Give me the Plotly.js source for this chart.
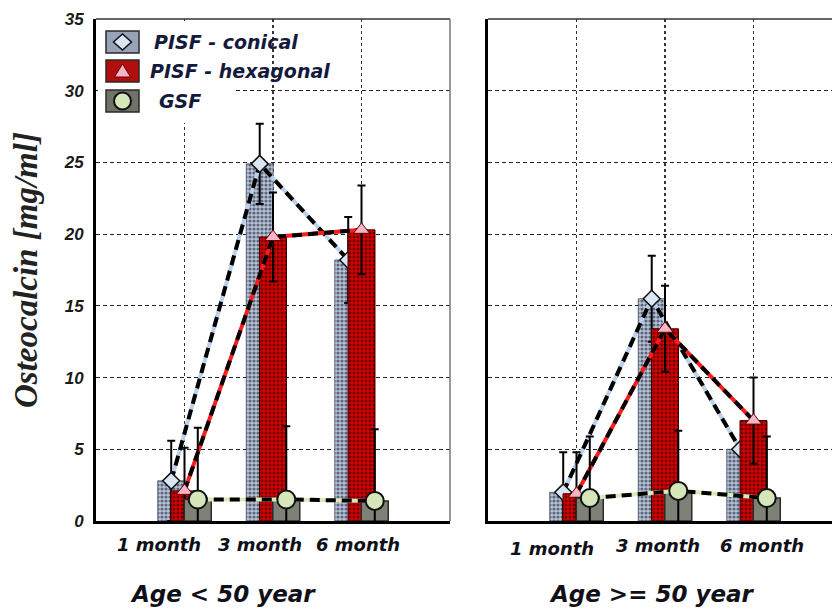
<!DOCTYPE html>
<html>
<head>
<meta charset="utf-8">
<script src="https://cdn.plot.ly/plotly-3.0.1.min.js"></script>
<style>html,body{margin:0;padding:0;background:#fff;}#chart{width:832px;height:616px;}</style>
</head>
<body>
<div id="chart"></div>
<script>
// ---- data ----
const categories = ['1 month', '3 month', '6 month'];
const seriesNames = ['PISF - conical', 'PISF - hexagonal', 'GSF'];
const panelTitles = ['Age < 50 year', 'Age >= 50 year'];

const conicalYoung = [2.8, 24.9, 18.2];
const conicalYoungErr = [2.8, 2.8, 3.0];
const hexYoung = [2.1, 19.8, 20.3];
const hexYoungErr = [3.0, 3.1, 3.1];
const gsfYoung = [1.5, 1.5, 1.4];
const gsfYoungErr = [5.0, 5.1, 5.0];

const conicalOld = [2.0, 15.5, 5.0];
const conicalOldErr = [2.8, 3.0, null];
const hexOld = [1.9, 13.4, 7.0];
const hexOldErr = [2.9, 3.0, 3.0];
const gsfOld = [1.6, 2.1, 1.6];
const gsfOldErr = [4.3, 4.2, 4.3];

const yTicks = [0, 5, 10, 15, 20, 25, 30, 35];

// ---- styles ----
const W = 832, H = 616, MT = 19, MB = 95;
const PH = H - MT - MB;
const barW = 0.305;
const shifts = [-0.15, 0, 0.15];
const styles = [
  { bar: { color: '#b8c4da', pattern: { shape: '.', fgcolor: '#5c6678', bgcolor: '#b8c4da', size: 4, solidity: 0.5, fillmode: 'replace' }, line: { color: '#4e5563', width: 0.8 } },
    under: '#bcd0ea', marker: { symbol: 'diamond', size: 13, color: '#dbe6f4', line: { color: '#111', width: 1.5 } } },
  { bar: { color: '#c80000', pattern: { shape: '.', fgcolor: '#6a0000', bgcolor: '#d80000', size: 4, solidity: 0.45, fillmode: 'replace' }, line: { color: '#400000', width: 1 } },
    under: '#ff1c1c', marker: { symbol: 'triangle-up', size: 14, color: '#f6b4c4', line: { color: '#6a0000', width: 1 } } },
  { bar: { color: '#7e8176', line: { color: '#2b2b2b', width: 1.5 } },
    under: '#d9ebb8', marker: { symbol: 'circle', size: 18, color: '#d5e6bb', line: { color: '#111', width: 2 } } }
];

const panels = [
  { vals: [conicalYoung, hexYoung, gsfYoung], errs: [conicalYoungErr, hexYoungErr, gsfYoungErr], axes: [['x', 'y'], ['x3', 'y3'], ['x4', 'y4']] },
  { vals: [conicalOld, hexOld, gsfOld], errs: [conicalOldErr, hexOldErr, gsfOldErr], axes: [['x2', 'y2'], ['x5', 'y5'], ['x6', 'y6']] }
];

const idx = categories.map((c, i) => i);
const traces = [];
panels.forEach((p, pi) => {
  p.vals.forEach((v, s) => {
    const [xa, ya] = p.axes[s];
    const st = styles[s];
    traces.push({
      type: 'bar', x: idx, y: v, xaxis: xa, yaxis: ya, name: seriesNames[s],
      width: barW, offset: shifts[s] - barW / 2,
      marker: st.bar, showlegend: false, hoverinfo: 'skip',
      error_y: { type: 'data', array: p.errs[s], visible: true, color: '#000', thickness: 2, width: 4 }
    });
    const xs = idx.map(i => i + shifts[s]);
    traces.push({
      type: 'scatter', mode: 'lines', x: xs, y: v, xaxis: xa, yaxis: ya,
      line: { color: st.under, width: 4 }, showlegend: false, hoverinfo: 'skip'
    });
    traces.push({
      type: 'scatter', mode: 'lines+markers', x: xs, y: v, xaxis: xa, yaxis: ya, name: seriesNames[s],
      line: { color: '#000', width: 4, dash: '10px,6px' }, marker: st.marker, showlegend: false, hoverinfo: 'skip'
    });
  });
});

// ---- layout ----
const PX = px => px / W;
const PY = py => (H - MB - py) / PH;
const domL = [PX(96), PX(450)];
const domR = [PX(488), 1];
const rangeL = [-1, 3];
const rangeR = [-1, -1 + (W - 488) / ((450 - 96) / 4)];

const xTickFont = { family: 'DejaVu Sans', size: 18, weight: 'bold', style: 'italic', color: '#101018' };
const baseX = {
  tickmode: 'array', tickvals: idx, ticktext: categories, showticklabels: false,
  showgrid: true, griddash: 'dot', gridcolor: '#333', gridwidth: 1.3,
  showline: true, linewidth: 3, linecolor: '#000', zeroline: false,
  ticks: '', fixedrange: true, automargin: false
};
const baseY = {
  range: [0, 35], tickmode: 'array', tickvals: yTicks,
  showgrid: true, griddash: '4px,3px', gridcolor: '#222', gridwidth: 1,
  showline: true, linewidth: 3, linecolor: '#000', zeroline: false, ticks: '',
  tickfont: { family: 'Liberation Sans', size: 17, weight: 'bold', style: 'italic', color: '#1a1a1a' },
  ticklabelstandoff: 6, fixedrange: true, automargin: false
};
const hidden = r => ({ range: r, visible: false, fixedrange: true });

const layout = {
  width: W, height: H, autosize: false,
  margin: { l: 0, r: 0, t: MT, b: MB, pad: 0 },
  paper_bgcolor: '#fff', plot_bgcolor: '#fff',
  showlegend: false, barmode: 'overlay',
  xaxis: Object.assign({}, baseX, { domain: domL, range: rangeL, anchor: 'y' }),
  yaxis: Object.assign({}, baseY, { anchor: 'x' }),
  xaxis2: Object.assign({}, baseX, { domain: domR, range: rangeR, anchor: 'y2' }),
  yaxis2: Object.assign({}, baseY, { anchor: 'x2', showticklabels: false }),
  xaxis3: Object.assign(hidden(rangeL), { overlaying: 'x', anchor: 'y3' }),
  yaxis3: Object.assign(hidden([0, 35]), { overlaying: 'y', anchor: 'x3' }),
  xaxis4: Object.assign(hidden(rangeL), { overlaying: 'x', anchor: 'y4' }),
  yaxis4: Object.assign(hidden([0, 35]), { overlaying: 'y', anchor: 'x4' }),
  xaxis5: Object.assign(hidden(rangeR), { overlaying: 'x2', anchor: 'y5' }),
  yaxis5: Object.assign(hidden([0, 35]), { overlaying: 'y2', anchor: 'x5' }),
  xaxis6: Object.assign(hidden(rangeR), { overlaying: 'x2', anchor: 'y6' }),
  yaxis6: Object.assign(hidden([0, 35]), { overlaying: 'y2', anchor: 'x6' }),
  shapes: [],
  annotations: []
};

// category labels (placed on each panel's x axis, with per-label pixel nudges)
const labelShift = [[-26, -13, -4], [-25, -7, 8]];
const labelY = [[544, 544, 544], [548, 545, 545]];
['x', 'x2'].forEach((xa, pi) => {
  categories.forEach((c, i) => {
    layout.annotations.push({ xref: xa, yref: 'paper', x: idx[i], y: PY(labelY[pi][i]), xshift: labelShift[pi][i], xanchor: 'center', yanchor: 'middle', showarrow: false, text: c, font: xTickFont });
  });
});

// legend background (covers grid)
layout.shapes.push({ type: 'rect', xref: 'paper', yref: 'paper', x0: PX(98), x1: PX(235), y0: PY(123), y1: PY(21), fillcolor: '#fff', line: { width: 0 }, layer: 'above' });
// frame lines
layout.shapes.push({ type: 'line', xref: 'paper', yref: 'paper', x0: PX(96), x1: PX(450), y0: 1, y1: 1, line: { color: '#333', width: 1.5 }, layer: 'above' });
layout.shapes.push({ type: 'line', xref: 'paper', yref: 'paper', x0: PX(450), x1: PX(450), y0: 0, y1: 1, line: { color: '#777', width: 1.5 }, layer: 'above' });
layout.shapes.push({ type: 'line', xref: 'paper', yref: 'paper', x0: PX(488), x1: 1, y0: 1, y1: 1, line: { color: '#333', width: 1.5 }, layer: 'above' });

// manual legend
const legendFills = ['#98a3ba', '#b30e0e', '#70726a'];
const legendRows = [42, 71, 101];
const legendTextX = [152, 148, 157];
const legendFont = { family: 'DejaVu Sans', size: 19, weight: 'bold', style: 'italic', color: '#141a3c' };
legendRows.forEach((cy, s) => {
  layout.shapes.push({ type: 'rect', xref: 'paper', yref: 'paper', x0: PX(106), x1: PX(139), y0: PY(cy + 11), y1: PY(cy - 11), fillcolor: legendFills[s], line: { color: '#2a2a2a', width: 1.5 }, layer: 'above' });
  const cx = 122.5;
  const mk = styles[s].marker;
  if (s === 0) {
    const p = `M${PX(cx - 9)},${PY(cy)} L${PX(cx)},${PY(cy - 8)} L${PX(cx + 9)},${PY(cy)} L${PX(cx)},${PY(cy + 8)} Z`;
    layout.shapes.push({ type: 'path', xref: 'paper', yref: 'paper', path: p, fillcolor: mk.color, line: { color: '#111', width: 1.5 }, layer: 'above' });
  } else if (s === 1) {
    const p = `M${PX(cx - 8)},${PY(cy + 6)} L${PX(cx + 8)},${PY(cy + 6)} L${PX(cx)},${PY(cy - 7)} Z`;
    layout.shapes.push({ type: 'path', xref: 'paper', yref: 'paper', path: p, fillcolor: mk.color, line: { color: '#6a0000', width: 1 }, layer: 'above' });
  } else {
    layout.shapes.push({ type: 'circle', xref: 'paper', yref: 'paper', x0: PX(cx - 8.5), x1: PX(cx + 8.5), y0: PY(cy + 8.5), y1: PY(cy - 8.5), fillcolor: mk.color, line: { color: '#111', width: 2 }, layer: 'above' });
  }
  layout.annotations.push({ xref: 'paper', yref: 'paper', x: PX(legendTextX[s]), y: PY(cy), xanchor: 'left', yanchor: 'middle', showarrow: false, text: seriesNames[s], font: legendFont });
});

// panel titles & y title
const titleFont = { family: 'DejaVu Sans', size: 23, weight: 'bold', style: 'italic', color: '#101018' };
layout.annotations.push({ xref: 'paper', yref: 'paper', x: PX(223), y: PY(594), xanchor: 'center', yanchor: 'middle', showarrow: false, text: panelTitles[0], font: titleFont });
layout.annotations.push({ xref: 'paper', yref: 'paper', x: PX(652), y: PY(594), xanchor: 'center', yanchor: 'middle', showarrow: false, text: panelTitles[1], font: titleFont });
layout.annotations.push({ xref: 'paper', yref: 'paper', x: PX(26), y: PY(270), xanchor: 'center', yanchor: 'middle', showarrow: false, textangle: -90, text: 'Osteocalcin [mg/ml]', font: { family: 'Liberation Serif', size: 33, weight: 'bold', style: 'italic', color: '#222' } });

Plotly.newPlot('chart', traces, layout, { staticPlot: true, displayModeBar: false });
</script>
</body>
</html>
